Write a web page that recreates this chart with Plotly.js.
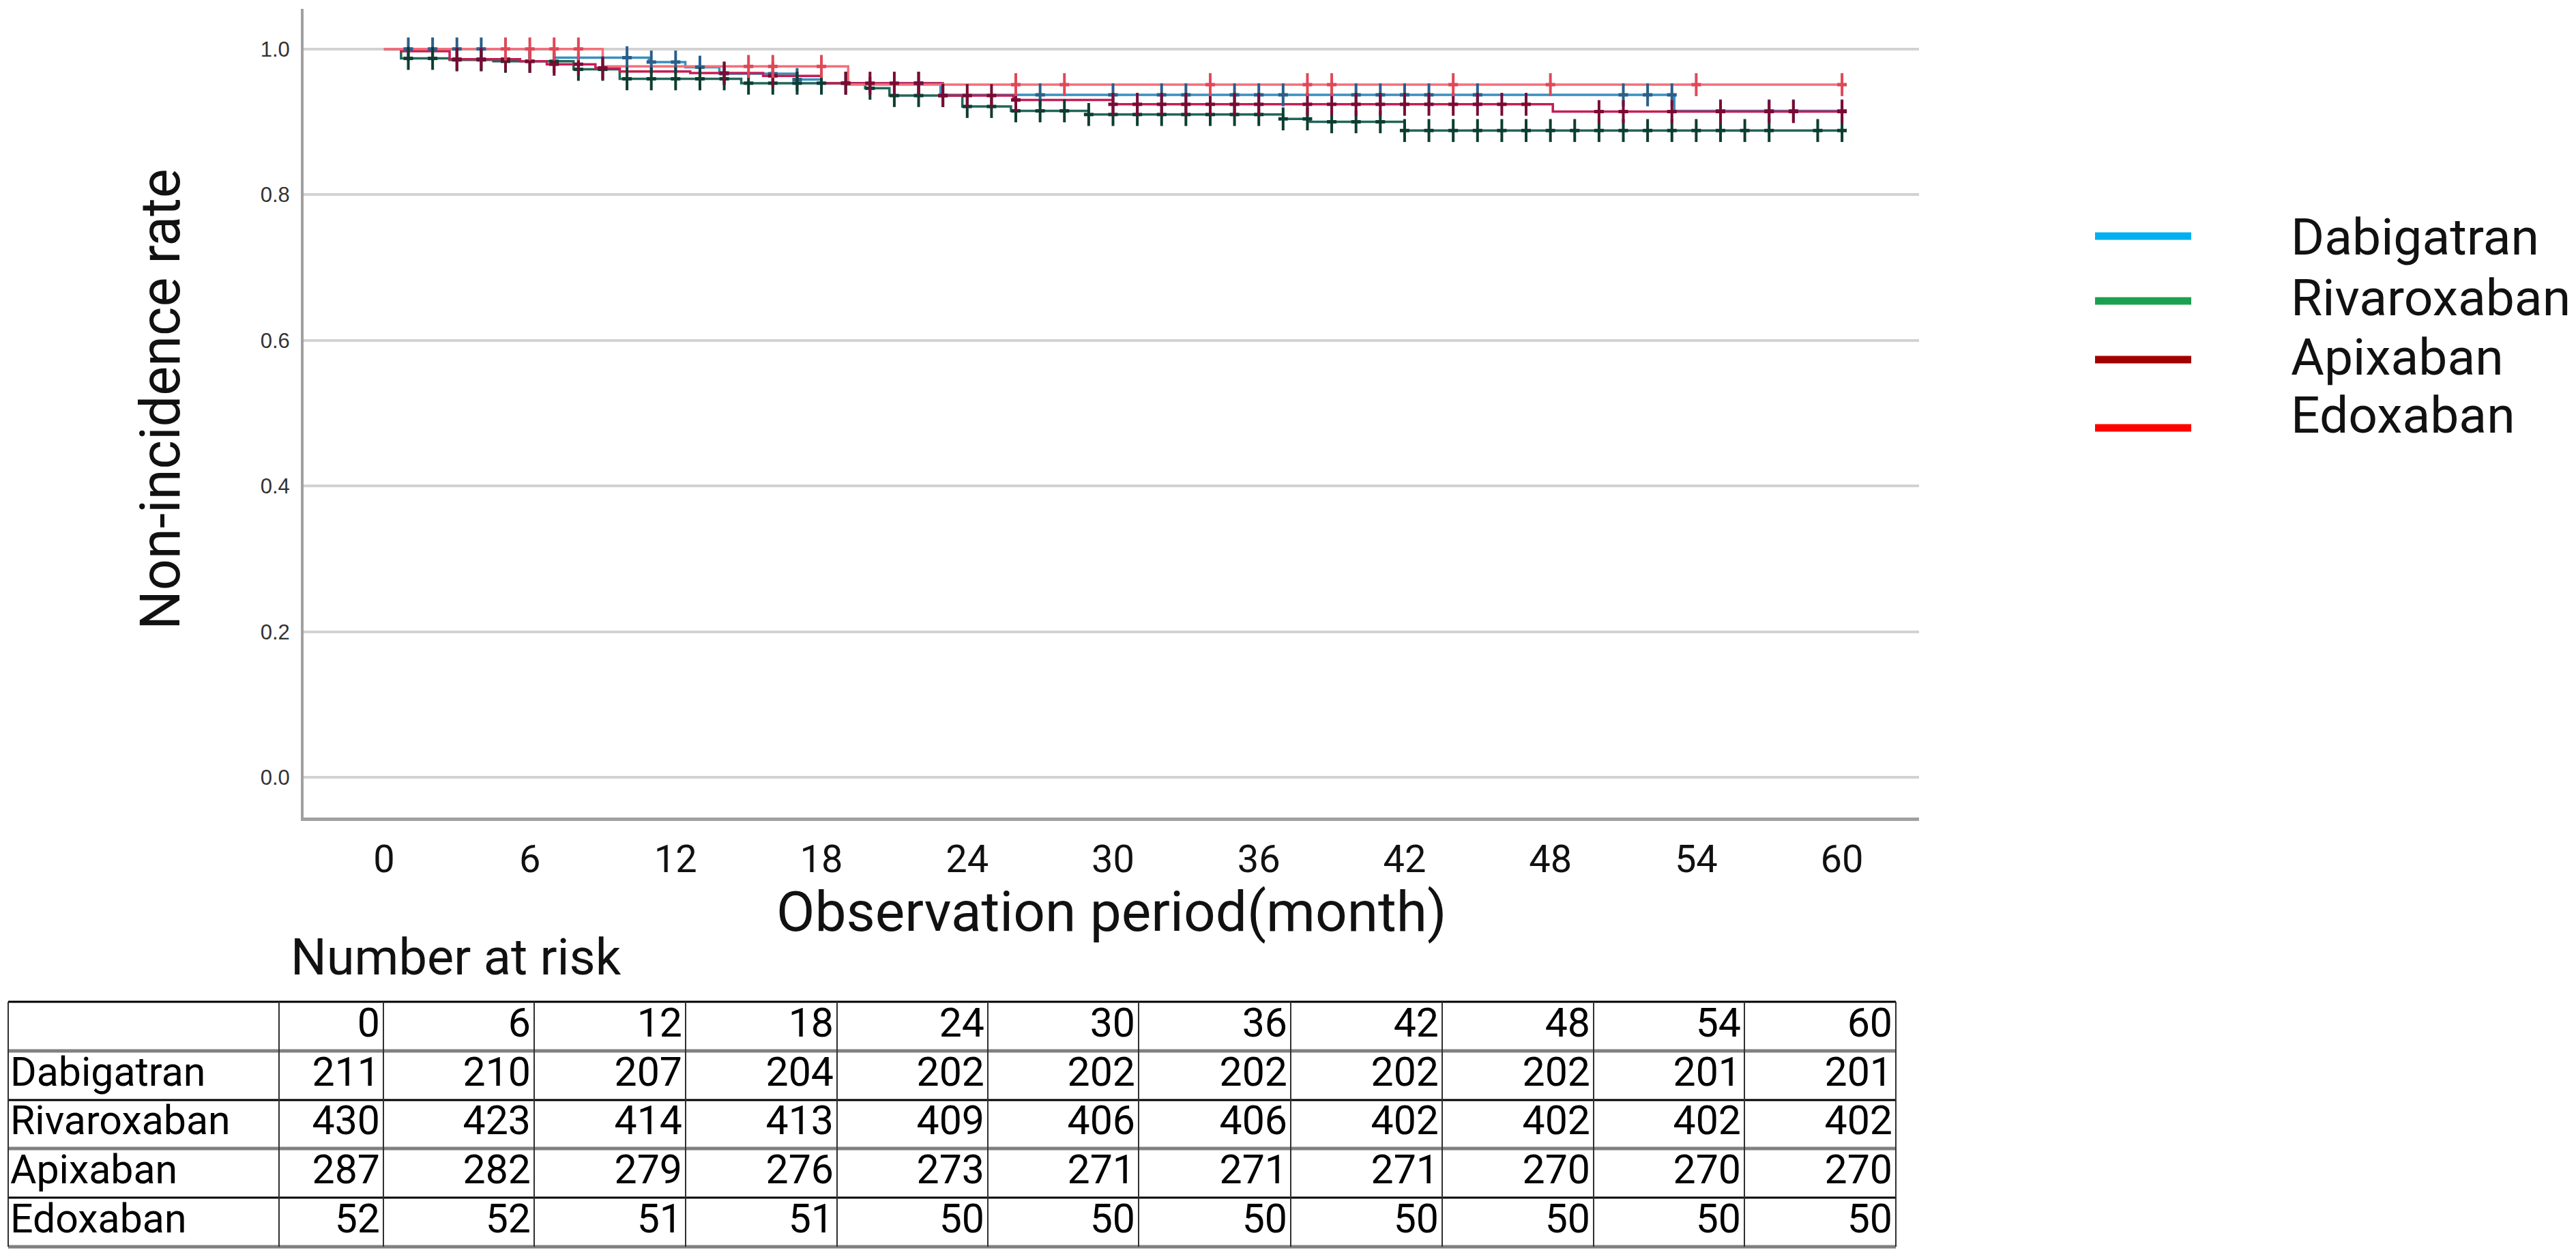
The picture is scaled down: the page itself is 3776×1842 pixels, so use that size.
<!DOCTYPE html>
<html>
<head>
<meta charset="utf-8">
<script src="https://cdn.plot.ly/plotly-3.0.1.min.js"></script>
<style>html,body{margin:0;padding:0;background:#fff;}</style>
</head>
<body>
<div id="chart" style="width:3776px;height:1842px;"></div>
<script>
// ---------------- DATA ----------------
const drugs = ["Dabigatran", "Rivaroxaban", "Apixaban", "Edoxaban"];
const riskTimes = [0, 6, 12, 18, 24, 30, 36, 42, 48, 54, 60];
const riskDabigatran  = [211, 210, 207, 204, 202, 202, 202, 202, 202, 201, 201];
const riskRivaroxaban = [430, 423, 414, 413, 409, 406, 406, 402, 402, 402, 402];
const riskApixaban    = [287, 282, 279, 276, 273, 271, 271, 271, 270, 270, 270];
const riskEdoxaban    = [52, 52, 51, 51, 50, 50, 50, 50, 50, 50, 50];

// Kaplan-Meier steps: event times (months) and survival after each step
const dabiT = [7.0, 10.9, 12.4, 13.8, 17.0, 18.0, 22.9, 53.1];
const dabiS = [0.988, 0.982, 0.975, 0.966, 0.958, 0.953, 0.937, 0.915];
const rivaT = [0.7, 2.7, 4.5, 7.8, 9.7, 14.7, 19.8, 20.8, 23.8, 25.8, 29.0, 37.0, 38.1, 42.0];
const rivaS = [0.987, 0.985, 0.983, 0.972, 0.959, 0.953, 0.946, 0.936, 0.921, 0.915, 0.910, 0.904, 0.900, 0.888];
const apixT = [0.7, 2.7, 5.6, 6.7, 8.7, 9.7, 12.6, 15.6, 18.0, 23.0, 25.9, 30.0, 48.1];
const apixS = [0.997, 0.986, 0.983, 0.979, 0.974, 0.969, 0.967, 0.963, 0.953, 0.936, 0.930, 0.924, 0.914];
const edoxT = [9.0, 19.1];
const edoxS = [0.976, 0.951];
const followEnd = 60;

// censoring marks (months)
const dabiC = [1, 2, 3, 4, 10, 11, 12, 13, 14, 16, 17, 22, 27, 30, 32, 33, 35, 36, 37, 40, 41, 42, 43, 45, 51, 52, 53, 55, 57, 58, 60];
const rivaC = [1, 2, 3, 4, 5, 6, 7, 8, 9, 10, 11, 12, 13, 14, 15, 16, 17, 18, 19, 20, 21, 22, 23, 24, 25, 26, 27, 28, 29, 30,
               31, 32, 33, 34, 35, 36, 37, 38, 39, 40, 41, 42, 43, 44, 45, 46, 47, 48, 49, 50, 51, 52, 53, 54, 55, 56, 57, 59, 60];
const apixC = [3, 4, 5, 6, 7, 8, 9, 14, 16, 19, 20, 21, 22, 23, 24, 25, 26, 30, 31, 32, 33, 34, 35, 36, 38, 39, 40, 41, 42,
               43, 44, 45, 46, 47, 50, 51, 53, 55, 57, 58, 60];
const edoxC = [5, 6, 7, 8, 15, 16, 18, 26, 28, 34, 38, 39, 44, 48, 54, 60];

const yTicks = [0, 0.2, 0.4, 0.6, 0.8, 1.0];
const yTickText = ["0.0", "0.2", "0.4", "0.6", "0.8", "1.0"];

// ---------------- STYLE / LAYOUT CONSTANTS ----------------
const W = 3776, H = 1842;
const PX = x => x / W;
const PY = y => 1 - y / H;
const FONT = "Roboto, Liberation Sans, sans-serif";
const styles = {
  Dabigatran:  {line: "#3a8ec0", mark: "#2a5f8a", legend: "#00b0f0"},
  Rivaroxaban: {line: "#20665a", mark: "#0d3d30", legend: "#1aa050"},
  Apixaban:    {line: "#c41e55", mark: "#7a0a35", legend: "#a00000"},
  Edoxaban:    {line: "#f2707a", mark: "#e04858", legend: "#ff0000"}
};
const series = {
  Dabigatran:  {T: dabiT, S: dabiS, C: dabiC, risk: riskDabigatran},
  Rivaroxaban: {T: rivaT, S: rivaS, C: rivaC, risk: riskRivaroxaban},
  Apixaban:    {T: apixT, S: apixS, C: apixC, risk: riskApixaban},
  Edoxaban:    {T: edoxT, S: edoxS, C: edoxC, risk: riskEdoxaban}
};
function survAt(T, S, t) {
  let v = 1;
  for (let i = 0; i < T.length; i++) { if (T[i] <= t) v = S[i]; }
  return v;
}

const traces = [];
const drawOrder = ["Dabigatran", "Rivaroxaban", "Apixaban", "Edoxaban"];
drawOrder.forEach(name => {
  const d = series[name], st = styles[name];
  const xs = [0].concat(d.T, [followEnd]);
  const ys = [1].concat(d.S, [d.S[d.S.length - 1]]);
  traces.push({x: xs, y: ys, type: "scatter", mode: "lines", line: {shape: "hv", color: st.line, width: 3.5},
               hoverinfo: "skip", showlegend: false, xaxis: "x", yaxis: "y"});
});
drawOrder.forEach(name => {
  const d = series[name], st = styles[name];
  const cy = d.C.map(t => survAt(d.T, d.S, t));
  traces.push({x: d.C, y: cy, type: "scatter", mode: "markers",
               marker: {symbol: "line-ns-open", size: 24, color: st.mark, line: {color: st.mark, width: 4}},
               hoverinfo: "skip", showlegend: false, xaxis: "x", yaxis: "y", cliponaxis: false});
  traces.push({x: d.C, y: cy, type: "scatter", mode: "markers",
               marker: {symbol: "line-ew-open", size: 10, color: st.mark, line: {color: st.mark, width: 5}},
               hoverinfo: "skip", showlegend: false, xaxis: "x", yaxis: "y", cliponaxis: false});
});

// ---------- Number-at-risk table (on its own pixel-unit axes) ----------
const tabLeft = 12, tabLabelRight = 409;
const colRight = [562, 783, 1005, 1227, 1448, 1669, 1892, 2114, 2336, 2557, 2779];
const rowEdges = [1468, 1540, 1612, 1683, 1755, 1827];
const rowCenter = i => (rowEdges[i] + rowEdges[i + 1]) / 2;

const tx = [], ty = [], tt = [];
riskTimes.forEach((t, c) => { tx.push(colRight[c] - 5); ty.push(rowCenter(0)); tt.push(String(t)); });
drugs.forEach((name, r) => {
  series[name].risk.forEach((v, c) => { tx.push(colRight[c] - 5); ty.push(rowCenter(r + 1)); tt.push(String(v)); });
});
traces.push({x: tx, y: ty, text: tt, type: "scatter", mode: "text", textposition: "middle left",
             textfont: {family: FONT, size: 59, color: "#000"}, hoverinfo: "skip", showlegend: false,
             xaxis: "x2", yaxis: "y2", cliponaxis: false});
traces.push({x: drugs.map(() => tabLeft + 3), y: drugs.map((n, r) => rowCenter(r + 1)), text: drugs,
             type: "scatter", mode: "text", textposition: "middle right",
             textfont: {family: FONT, size: 59, color: "#000"}, hoverinfo: "skip", showlegend: false,
             xaxis: "x2", yaxis: "y2", cliponaxis: false});

const shapes = [];
const hStyles = [
  {c: "#000", w: 3}, {c: "#808080", w: 5}, {c: "#000", w: 3}, {c: "#808080", w: 5}, {c: "#000", w: 3}, {c: "#808080", w: 5}
];
rowEdges.forEach((y, i) => {
  shapes.push({type: "line", xref: "x2", yref: "y2", x0: tabLeft, x1: colRight[colRight.length - 1], y0: y, y1: y,
               line: {color: hStyles[i].c, width: hStyles[i].w}});
});
[tabLeft, tabLabelRight].concat(colRight).forEach(x => {
  shapes.push({type: "line", xref: "x2", yref: "y2", x0: x, x1: x, y0: rowEdges[0], y1: rowEdges[rowEdges.length - 1],
               line: {color: "#303030", width: 2}});
});

// ---------- Legend (drawn) ----------
const legLineY = [346, 441, 527, 627];
const legTextY = [347, 436, 523, 608];
const annotations = [];
drugs.forEach((name, i) => {
  shapes.push({type: "line", xref: "paper", yref: "paper", x0: PX(3071), x1: PX(3212), y0: PY(legLineY[i]), y1: PY(legLineY[i]),
               line: {color: styles[name].legend, width: 11}});
  annotations.push({xref: "paper", yref: "paper", x: PX(3356), y: PY(legTextY[i]), xanchor: "left", yanchor: "middle",
                    text: name, showarrow: false, font: {family: FONT, size: 75, color: "#111"}});
});

annotations.push({xref: "paper", yref: "paper", x: PX(1629), y: PY(1336), xanchor: "center", yanchor: "middle",
                  text: "Observation period(month)", showarrow: false, font: {family: FONT, size: 82, color: "#111"}});
annotations.push({xref: "paper", yref: "paper", x: PX(236), y: PY(585), xanchor: "center", yanchor: "middle", textangle: -90,
                  text: "Non-incidence rate", showarrow: false, font: {family: FONT, size: 81, color: "#111"}});
annotations.push({xref: "paper", yref: "paper", x: PX(424), y: PY(1402), xanchor: "left", yanchor: "middle",
                  text: "Number at risk", showarrow: false, font: {family: FONT, size: 74, color: "#111"}});

const layout = {
  width: W, height: H, autosize: false,
  margin: {l: 0, r: 0, t: 0, b: 0, pad: 0},
  paper_bgcolor: "#fff", plot_bgcolor: "rgba(0,0,0,0)",
  showlegend: false,
  xaxis: {domain: [PX(445), PX(2813)], range: [-3.31, 63.17], tickvals: riskTimes, ticktext: riskTimes.map(String),
          showgrid: false, zeroline: false, showline: true, linecolor: "#a0a0a0", linewidth: 5, ticks: "",
          tickfont: {family: FONT, size: 56, color: "#111"}, ticklabelstandoff: 8, anchor: "y"},
  yaxis: {domain: [PY(1198), PY(13)], range: [-0.055, 1.055], tickvals: yTicks, ticktext: yTickText,
          showgrid: true, gridcolor: "#d2d2d2", gridwidth: 4, zeroline: false, showline: true, linecolor: "#a0a0a0",
          linewidth: 4, ticks: "", tickfont: {family: "Liberation Sans, Arial, sans-serif", size: 31, color: "#333"},
          ticklabelstandoff: 10, anchor: "x"},
  xaxis2: {domain: [0, 1], range: [0, W], visible: false, fixedrange: true, anchor: "y2"},
  yaxis2: {domain: [0, 1], range: [H, 0], visible: false, fixedrange: true, anchor: "x2"},
  shapes: shapes,
  annotations: annotations
};

Plotly.newPlot("chart", traces, layout, {staticPlot: true, displayModeBar: false});
</script>
</body>
</html>
